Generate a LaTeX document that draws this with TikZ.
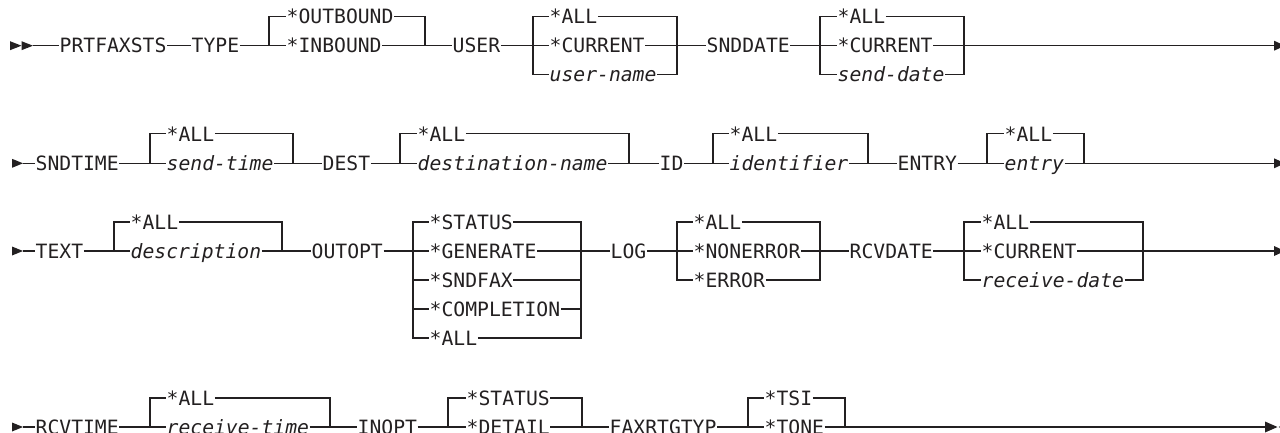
\documentclass[tikz,border=0pt]{standalone}
\usepackage{fontspec}
\newfontfamily\rr{DejaVu Sans Mono}
\definecolor{ink}{RGB}{35,32,33}
\begin{document}
\begin{tikzpicture}[x=1pt,y=-1pt,
  kw/.style={font={\rr\fontsize{19.7}{20}\selectfont}, inner sep=0pt, inner xsep=0.5pt,
             text height=14.4pt, text depth=0pt, anchor=west, text=ink},
  var/.style={kw, font={\rr\itshape\fontsize{19.7}{20}\selectfont}},
  rail/.style={draw=ink, line width=1.2pt},
  tip/.style={fill=ink}]
\path[fill=white,use as bounding box] (0,0) rectangle (1280,432);

% ---------------- row 1 ----------------
\fill[tip] (10,41.2) -- (21.5,45.7) -- (10,50.2) -- cycle;
\fill[tip] (21.5,41.2) -- (33,45.7) -- (21.5,50.2) -- cycle;
\coordinate (s1) at (33,45.7);
\node[kw] (prt) at (59,45.7) {PRTFAXSTS};
\node[kw] (type) at (191,45.7) {TYPE};
\coordinate (a1) at (269,45.7); \coordinate (a2) at (425,45.7);
\node[kw] (outb) at (286,16.7) {*OUTBOUND};
\node[kw] (inb) at (286,45.7) {*INBOUND};
\node[kw] (user) at (452,45.7) {USER};
\coordinate (b1) at (533,45.7); \coordinate (b2) at (677,45.7);
\node[kw] (uall) at (549,16.7) {*ALL};
\node[kw] (ucur) at (549,45.7) {*CURRENT};
\node[var] (uname) at (549,74.7) {user-name};
\node[kw] (snddate) at (706,45.7) {SNDDATE};
\coordinate (c1) at (820,45.7); \coordinate (c2) at (964,45.7);
\node[kw] (sdall) at (837,16.7) {*ALL};
\node[kw] (sdcur) at (837,45.7) {*CURRENT};
\node[var] (sdate) at (837,74.7) {send-date};
\coordinate (e1) at (1274,45.7);
\fill[tip] (1274,40.7) -- (1285,45.7) -- (1274,50.7) -- cycle;

\draw[rail] (s1) -- (prt.west) (prt.east) -- (type.west) (type.east) -- (a1);
\draw[rail] (a1) |- (outb.west) (a1) -- (inb.west) (outb.east) -| (a2) (inb.east) -- (a2);
\draw[rail] (a2) -- (user.west) (user.east) -- (b1);
\draw[rail] (b1) |- (uall.west) (b1) -- (ucur.west) (b1) |- (uname.west);
\draw[rail] (uall.east) -| (b2) (ucur.east) -- (b2) (uname.east) -| (b2);
\draw[rail] (b2) -- (snddate.west) (snddate.east) -- (c1);
\draw[rail] (c1) |- (sdall.west) (c1) -- (sdcur.west) (c1) |- (sdate.west);
\draw[rail] (sdall.east) -| (c2) (sdcur.east) -- (c2) (sdate.east) -| (c2);
\draw[rail] (c2) -- (e1);

% ---------------- row 2 ----------------
\fill[tip] (12,158.8) -- (23,163.3) -- (12,167.8) -- cycle;
\coordinate (s2) at (23,163.3);
\node[kw] (sndtime) at (35,163.3) {SNDTIME};
\coordinate (d1) at (150,163.3); \coordinate (d2) at (293,163.3);
\node[kw] (stall) at (166,133.8) {*ALL};
\node[var] (stime) at (166,163.3) {send-time};
\node[kw] (dest) at (322,163.3) {DEST};
\coordinate (f1) at (400,163.3); \coordinate (f2) at (629,163.3);
\node[kw] (dall) at (417,133.8) {*ALL};
\node[var] (dname) at (417,163.3) {destination-name};
\node[kw] (id) at (659,163.3) {ID};
\coordinate (g1) at (713,163.3); \coordinate (g2) at (868,163.3);
\node[kw] (iall) at (729,133.8) {*ALL};
\node[var] (ident) at (729,163.3) {identifier};
\node[kw] (entry) at (897,163.3) {ENTRY};
\coordinate (h1) at (987,163.3); \coordinate (h2) at (1084,163.3);
\node[kw] (eall) at (1004,133.8) {*ALL};
\node[var] (ent) at (1004,163.3) {entry};
\coordinate (e2) at (1274,163.3);
\fill[tip] (1274,158.3) -- (1285,163.3) -- (1274,168.3) -- cycle;

\draw[rail] (s2) -- (sndtime.west) (sndtime.east) -- (d1);
\draw[rail] (d1) |- (stall.west) (d1) -- (stime.west) (stall.east) -| (d2) (stime.east) -- (d2);
\draw[rail] (d2) -- (dest.west) (dest.east) -- (f1);
\draw[rail] (f1) |- (dall.west) (f1) -- (dname.west) (dall.east) -| (f2) (dname.east) -- (f2);
\draw[rail] (f2) -- (id.west) (id.east) -- (g1);
\draw[rail] (g1) |- (iall.west) (g1) -- (ident.west) (iall.east) -| (g2) (ident.east) -- (g2);
\draw[rail] (g2) -- (entry.west) (entry.east) -- (h1);
\draw[rail] (h1) |- (eall.west) (h1) -- (ent.west) (eall.east) -| (h2) (ent.east) -- (h2);
\draw[rail] (h2) -- (e2);

% ---------------- row 3 ----------------
\fill[tip] (12,246.5) -- (23,251) -- (12,255.5) -- cycle;
\coordinate (s3) at (23,251);
\node[kw] (text) at (35,251) {TEXT};
\coordinate (i1) at (114,251); \coordinate (i2) at (282,251);
\node[kw] (tall) at (130,222) {*ALL};
\node[var] (desc) at (130,251) {description};
\node[kw] (outopt) at (311,251) {OUTOPT};
\coordinate (j1) at (413,251); \coordinate (j2) at (581,251);
\node[kw] (ostat) at (429,222) {*STATUS};
\node[kw] (ogen) at (429,251) {*GENERATE};
\node[kw] (osnd) at (429,280) {*SNDFAX};
\node[kw] (ocomp) at (429,309) {*COMPLETION};
\node[kw] (oall) at (429,338) {*ALL};
\node[kw] (log) at (610,251) {LOG};
\coordinate (k1) at (677,251); \coordinate (k2) at (820,251);
\node[kw] (lall) at (693,222) {*ALL};
\node[kw] (lnon) at (693,251) {*NONERROR};
\node[kw] (lerr) at (693,280) {*ERROR};
\node[kw] (rcvdate) at (849,251) {RCVDATE};
\coordinate (m1) at (964,251); \coordinate (m2) at (1143,251);
\node[kw] (rdall) at (981,222) {*ALL};
\node[kw] (rdcur) at (981,251) {*CURRENT};
\node[var] (rdate) at (981,280) {receive-date};
\coordinate (e3) at (1274,251);
\fill[tip] (1274,246) -- (1285,251) -- (1274,256) -- cycle;

\draw[rail] (s3) -- (text.west) (text.east) -- (i1);
\draw[rail] (i1) |- (tall.west) (i1) -- (desc.west) (tall.east) -| (i2) (desc.east) -- (i2);
\draw[rail] (i2) -- (outopt.west) (outopt.east) -- (j1);
\draw[rail] (j1) |- (ostat.west) (j1) -- (ogen.west) (j1) |- (osnd.west)
            (j1) |- (ocomp.west) (j1) |- (oall.west);
\draw[rail] (ostat.east) -| (j2) (ogen.east) -- (j2) (osnd.east) -| (j2)
            (ocomp.east) -| (j2) (oall.east) -| (j2);
\draw[rail] (j2) -- (log.west) (log.east) -- (k1);
\draw[rail] (k1) |- (lall.west) (k1) -- (lnon.west) (k1) |- (lerr.west);
\draw[rail] (lall.east) -| (k2) (lnon.east) -- (k2) (lerr.east) -| (k2);
\draw[rail] (k2) -- (rcvdate.west) (rcvdate.east) -- (m1);
\draw[rail] (m1) |- (rdall.west) (m1) -- (rdcur.west) (m1) |- (rdate.west);
\draw[rail] (rdall.east) -| (m2) (rdcur.east) -- (m2) (rdate.east) -| (m2);
\draw[rail] (m2) -- (e3);

% ---------------- row 4 ----------------
\fill[tip] (12,422.5) -- (23,427) -- (12,431.5) -- cycle;
\coordinate (s4) at (23,427);
\node[kw] (rcvtime) at (35,427) {RCVTIME};
\coordinate (n1) at (150,427); \coordinate (n2) at (330,427);
\node[kw] (rtall) at (166,398) {*ALL};
\node[var] (rtime) at (166,427) {receive-time};
\node[kw] (inopt) at (357,427) {INOPT};
\coordinate (p1) at (448,427); \coordinate (p2) at (582,427);
\node[kw] (istat) at (466,398) {*STATUS};
\node[kw] (idet) at (466,427) {*DETAIL};
\node[kw] (faxr) at (609,427) {FAXRTGTYP};
\coordinate (q1) at (748,427); \coordinate (q2) at (845,427);
\node[kw] (tsi) at (764,398) {*TSI};
\node[kw] (tone) at (764,427) {*TONE};
\coordinate (e4) at (1265,427);
\fill[tip] (1265,421.5) -- (1277.5,427) -- (1265,432.5) -- cycle;
\fill[tip] (1291,421.5) -- (1278.5,427) -- (1291,432.5) -- cycle;

\draw[rail] (s4) -- (rcvtime.west) (rcvtime.east) -- (n1);
\draw[rail] (n1) |- (rtall.west) (n1) -- (rtime.west) (rtall.east) -| (n2) (rtime.east) -- (n2);
\draw[rail] (n2) -- (inopt.west) (inopt.east) -- (p1);
\draw[rail] (p1) |- (istat.west) (p1) -- (idet.west) (istat.east) -| (p2) (idet.east) -- (p2);
\draw[rail] (p2) -- (faxr.west) (faxr.east) -- (q1);
\draw[rail] (q1) |- (tsi.west) (q1) -- (tone.west) (tsi.east) -| (q2) (tone.east) -- (q2);
\draw[rail] (q2) -- (e4);
\end{tikzpicture}
\end{document}
